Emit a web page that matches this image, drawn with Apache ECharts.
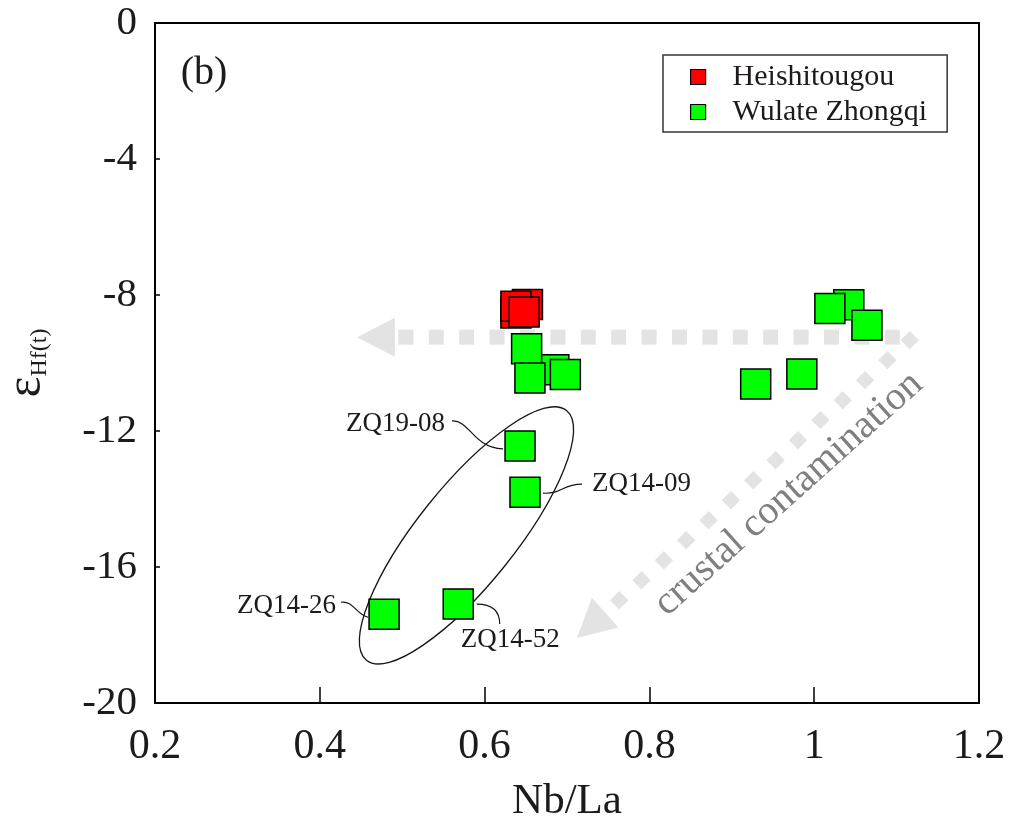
<!DOCTYPE html>
<html>
<head>
<meta charset="utf-8">
<script src="https://cdn.jsdelivr.net/npm/echarts@6/dist/echarts.min.js"></script>
<style>
  html, body { margin: 0; padding: 0; background: #ffffff; }
  #chart { width: 1016px; height: 822px; }
</style>
</head>
<body>
<div id="chart"></div>
<script>
// ---- data ----
const xTicks = [0.2, 0.4, 0.6, 0.8, 1.0, 1.2];
const yTicks = [0, -4, -8, -12, -16, -20];

const heiNbLa = [0.638, 0.652, 0.638, 0.648];
const heiEHf  = [-8.53, -8.28, -8.33, -8.50];

const wulNbLa = [0.684, 0.651, 0.655, 0.698, 1.042, 1.019, 1.064, 0.929, 0.985, 0.643, 0.649, 0.478, 0.568];
const wulEHf  = [-10.20, -9.58, -10.44, -10.34, -8.29, -8.40, -8.89, -10.62, -10.32, -12.44, -13.80, -17.39, -17.09];
const wulSample = ['', '', '', '', '', '', '', '', '', 'ZQ19-08', 'ZQ14-09', 'ZQ14-26', 'ZQ14-52'];

const seriesNames = ['Heishitougou', 'Wulate Zhongqi'];

// trend arrows (data space): corner where both arrows start, and their tips
const arrowCorner = [1.116, -9.24];
const arrowTipH   = [0.445, -9.24];
const arrowTipD   = [0.712, -18.09];
const arrowText   = 'crustal contamination';
const arrowTextAt = [0.969, -13.85];

// ellipse around the low-εHf group (data-space centre)
const groupCentre = [0.578, -15.07];

// ---- styling / layout ----
const SERIF = '"Liberation Serif", "Times New Roman", serif';
const INK = '#1d1a1a';
const GREY_DOT = '#e3e3e3';

// callout layout per labelled sample, in px relative to the point centre
const callouts = {
  'ZQ19-08': { text: [-75, -22], align: 'right',
               curve: [[-68, -25], [-50, -26], [-48, 1], [-17, 3]] },
  'ZQ14-09': { text: [67, -8], align: 'left',
               curve: [[18, 1], [37, 2], [37, -8], [57, -8]] },
  'ZQ14-26': { text: [-48, -8.5], align: 'right',
               curve: [[-43, -12], [-31, -14], [-28, 0], [-16, 3]] },
  'ZQ14-52': { text: [52, 36], align: 'center',
               curve: [[18.5, 0], [35.5, 0], [41.5, 8], [41.5, 20]] }
};

const chart = echarts.init(document.getElementById('chart'), null, { renderer: 'canvas' });

function pairs(xs, ys) { return xs.map((x, i) => [x, ys[i]]); }

const option = {
  animation: false,
  backgroundColor: '#ffffff',
  grid: {
    left: 155, right: 37, top: 23, bottom: 119,
    outerBoundsMode: 'none',
    containLabel: false,
    show: true, borderColor: '#000', borderWidth: 2, backgroundColor: 'transparent'
  },
  legend: {
    orient: 'vertical',
    left: 663, top: 55,
    padding: [7, 20, 5, 27],
    itemGap: 5,
    itemWidth: 15, itemHeight: 15,
    icon: 'rect',
    borderColor: '#3a3535', borderWidth: 1.5,
    itemStyle: { borderColor: '#000', borderWidth: 1.2 },
    textStyle: { fontFamily: SERIF, fontSize: 30, color: INK, padding: [0, 0, 0, 22], lineHeight: 26 },
    data: seriesNames
  },
  xAxis: {
    type: 'value',
    min: xTicks[0], max: xTicks[xTicks.length - 1], interval: 0.2,
    name: 'Nb/La', nameLocation: 'middle', nameGap: 77,
    nameTextStyle: { fontFamily: SERIF, fontSize: 43, color: INK },
    axisLine: { show: true, onZero: false, lineStyle: { color: '#000', width: 2 } },
    axisTick: { show: true, inside: true, length: 16, lineStyle: { color: '#000', width: 1.5 } },
    axisLabel: { fontFamily: SERIF, fontSize: 42, color: INK, margin: 23 },
    splitLine: { show: false }
  },
  yAxis: {
    type: 'value',
    min: yTicks[yTicks.length - 1], max: yTicks[0], interval: 4,
    name: '{e|ε}{s|Hf(t)}', nameLocation: 'middle', nameGap: 103, nameRotate: 90,
    nameTextStyle: {
      color: INK,
      rich: {
        e: { fontFamily: SERIF, fontSize: 50, color: INK, lineHeight: 50, verticalAlign: 'middle' },
        s: { fontFamily: SERIF, fontSize: 24, color: INK, lineHeight: 14, verticalAlign: 'bottom' }
      }
    },
    axisLine: { show: true, onZero: false, lineStyle: { color: '#000', width: 2 } },
    axisTick: { show: true, inside: true, length: 5, lineStyle: { color: '#000', width: 1.5 } },
    axisLabel: { fontFamily: SERIF, fontSize: 41, color: INK, margin: 18 },
    splitLine: { show: false }
  },
  series: [
    {
      name: seriesNames[0],
      type: 'scatter',
      symbol: 'rect',
      symbolSize: 30,
      itemStyle: { color: '#ff0000', borderColor: '#000', borderWidth: 1.5, opacity: 1 },
      data: pairs(heiNbLa, heiEHf),
      z: 4
    },
    {
      name: seriesNames[1],
      type: 'scatter',
      symbol: 'rect',
      symbolSize: 30,
      itemStyle: { color: '#00ff00', borderColor: '#000', borderWidth: 1.5, opacity: 1 },
      data: pairs(wulNbLa, wulEHf),
      z: 4
    }
  ]
};

chart.setOption(option);

// ---- annotations positioned through the chart's own coordinate system ----
function px(pt) { return chart.convertToPixel({ gridIndex: 0 }, pt); }

// evenly spaced grey blocks along a segment
function blocks(from, to, firstAt, step, count, size, diamond) {
  const dx = to[0] - from[0], dy = to[1] - from[1];
  const len = Math.hypot(dx, dy);
  const ux = dx / len, uy = dy / len;
  const out = [];
  for (let k = 0; k < count; k++) {
    const t = firstAt + k * step;
    out.push({
      type: 'rect',
      x: from[0] + ux * t, y: from[1] + uy * t,
      rotation: diamond ? Math.PI / 4 : 0,
      shape: { x: -size / 2, y: -size / 2, width: size, height: size },
      style: { fill: GREY_DOT },
      silent: true, z: 1
    });
  }
  return out;
}

function arrowHead(tip, from, depth, width) {
  const dx = tip[0] - from[0], dy = tip[1] - from[1];
  const len = Math.hypot(dx, dy);
  const ux = dx / len, uy = dy / len;
  const bx = tip[0] - ux * depth, by = tip[1] - uy * depth;
  const nx = -uy, ny = ux;
  return {
    type: 'polygon',
    shape: { points: [tip, [bx + nx * width / 2, by + ny * width / 2], [bx - nx * width / 2, by - ny * width / 2]] },
    style: { fill: GREY_DOT },
    silent: true, z: 1
  };
}

function buildGraphics() {
  const g = [];
  const corner = px(arrowCorner);
  const tipH = px(arrowTipH);
  const tipD = px(arrowTipD);
  const cornerD = [corner[0], corner[1] + 3];

  // horizontal arrow: squares from the corner to the left, then the head
  const hLen = Math.hypot(tipH[0] - corner[0], tipH[1] - corner[1]);
  const hStep = 30.4, hFirst = 17.5;
  const hCount = Math.floor((hLen - 45 - hFirst) / hStep + 1e-6) + 1;
  g.push(...blocks(corner, tipH, hFirst, hStep, hCount, 15, false));
  g.push(arrowHead(tipH, corner, 38, 39));

  // diagonal arrow: diamonds towards the lower left, then the head
  const dLen = Math.hypot(tipD[0] - cornerD[0], tipD[1] - cornerD[1]);
  const dStep = 30;
  const dCount = Math.floor((dLen - 47) / dStep + 1e-6) + 1;
  g.push(...blocks(cornerD, tipD, 0, dStep, dCount, 13, true));
  g.push(arrowHead(tipD, cornerD, 38, 40));

  // rotated arrow caption
  const tp = px(arrowTextAt);
  g.push({
    type: 'text', x: tp[0], y: tp[1],
    rotation: Math.atan2(tipD[1] - cornerD[1], cornerD[0] - tipD[0]),
    style: { text: arrowText, font: '40px ' + SERIF, fill: '#7f7f7f', align: 'center', verticalAlign: 'middle' },
    silent: true, z: 2
  });

  // ellipse around the low-εHf samples
  const ec = px(groupCentre);
  g.push({
    type: 'ellipse',
    x: ec[0], y: ec[1],
    rotation: 51.3 * Math.PI / 180,
    shape: { cx: 0, cy: 0, rx: 160, ry: 49 },
    style: { fill: 'none', stroke: '#1a1414', lineWidth: 1.3 },
    silent: true, z: 3
  });

  // sample callouts with curved leaders
  wulSample.forEach((name, i) => {
    if (!name || !callouts[name]) return;
    const c = callouts[name];
    const p = px([wulNbLa[i], wulEHf[i]]);
    const q = c.curve.map(o => [p[0] + o[0], p[1] + o[1]]);
    g.push({
      type: 'bezierCurve',
      shape: { x1: q[0][0], y1: q[0][1], cpx1: q[1][0], cpy1: q[1][1], cpx2: q[2][0], cpy2: q[2][1], x2: q[3][0], y2: q[3][1] },
      style: { stroke: '#1a1414', lineWidth: 1.2, fill: 'none' },
      silent: true, z: 3
    });
    g.push({
      type: 'text', x: p[0] + c.text[0], y: p[1] + c.text[1],
      style: { text: name, font: '27px ' + SERIF, fill: INK, align: c.align, verticalAlign: 'middle' },
      silent: true, z: 3
    });
  });

  // panel tag
  g.push({
    type: 'text', x: 204, y: 73,
    style: { text: '(b)', font: '40px ' + SERIF, fill: INK, align: 'center', verticalAlign: 'middle' },
    silent: true, z: 3
  });
  return g;
}

chart.setOption({ graphic: buildGraphics() });
</script>
</body>
</html>
